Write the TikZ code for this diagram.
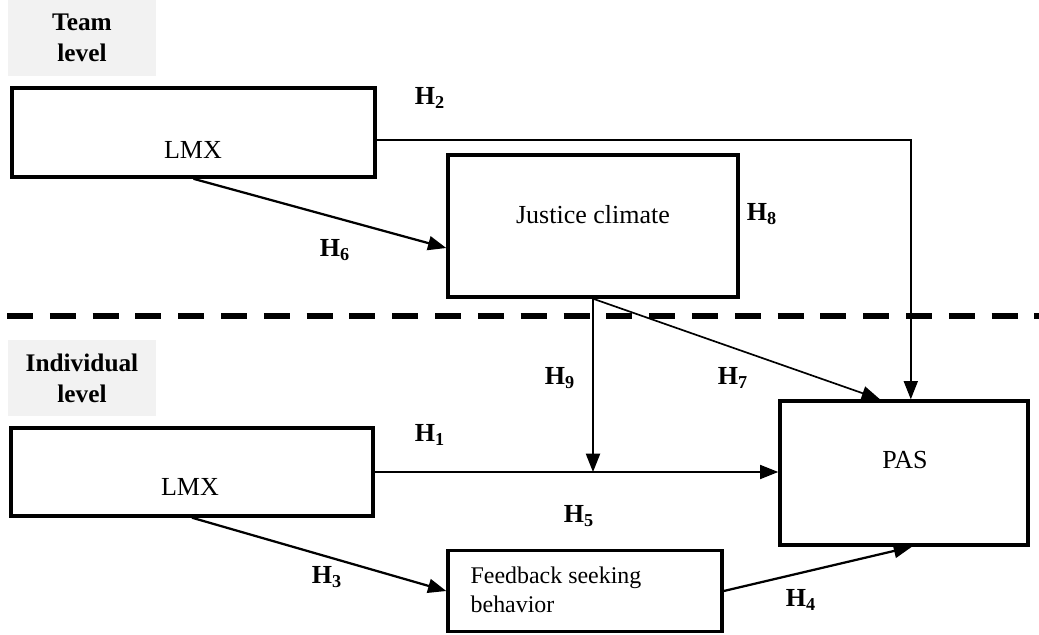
\documentclass[tikz,border=0pt]{standalone}
\usepackage{fontspec}
\setmainfont{Liberation Serif}
\usetikzlibrary{arrows.meta}

\begin{document}
\begin{tikzpicture}[x=0.025cm, y=-0.025cm,
        font=\fontsize{18.5}{22}\selectfont,
        box/.style={draw, line width=2.4pt, inner sep=0pt},
        hyp/.style={font=\fontsize{18.5}{22}\selectfont\bfseries},
        lvl/.style={fill=gray!10, font=\fontsize{18}{22}\selectfont\bfseries, align=center, minimum width=3.7cm, minimum height=1.9cm},
        link/.style={line width=1.6pt, -{Triangle[length=13pt, width=10pt]}}]
        \useasboundingbox (0,0) rectangle (1039,634);

        % levels
        \node[lvl] (team) at (82,38) {Team\\level};
        \node[lvl] (indiv) at (82,378) {Individual\\level};
        \draw[line width=3.6pt, dash pattern=on 0.65cm off 0.42cm] (7,316) -- (1039,316);

        % boxes
        \node[box, minimum width=9.08cm, minimum height=2.23cm] (lmxT) at (193.5,132.5) {};
        \node (lmxTtxt) at (193,150) {LMX};
        \node[box, minimum width=7.25cm, minimum height=3.55cm] (jc) at (593,226) {};
        \node (jctxt) at (593,215) {Justice climate};
        \node[box, minimum width=9.05cm, minimum height=2.2cm] (lmxI) at (192,472) {};
        \node (lmxItxt) at (190,487) {LMX};
        \node[box, minimum width=6.2cm, minimum height=3.6cm] (pas) at (904,473) {};
        \node (pastxt) at (905,460) {PAS};
        \node[box, minimum width=6.85cm, minimum height=2.03cm] (fb) at (585,591) {};
        \node[align=left, font=\fontsize{17}{20.5}\selectfont] (fbtxt) at (556,590) {Feedback seeking\\behavior};

        % paths
        \coordinate (j) at (jc.south |- lmxI.east);
        \draw[link, line width=1.2pt] ([yshift=-0.19cm]lmxT.east) -| ([xshift=0.17cm]pas.north);
        \draw[link] (lmxT.south) -- ([yshift=-0.55cm]jc.west);
        \draw[link, line width=1.2pt] (jc.south) -- (j);
        \draw[link, line width=1.2pt] (jc.south) -- ([xshift=-0.6cm]pas.north);
        \draw[link, line width=1.2pt] (lmxI.east) -- (lmxI.east -| pas.west);
        \draw[link] (lmxI.south) -- (fb.west);
        \draw[link] (fb.east) -- ([xshift=0.2cm]pas.south);

        % hypotheses
        \node[hyp] (h1) at (430,435) {H\textsubscript{1}};
        \node[hyp] (h2) at (430,98) {H\textsubscript{2}};
        \node[hyp] (h3) at (327,577) {H\textsubscript{3}};
        \node[hyp] (h4) at (801,600) {H\textsubscript{4}};
        \node[hyp] (h5) at (579,516) {H\textsubscript{5}};
        \node[hyp] (h6) at (335,250) {H\textsubscript{6}};
        \node[hyp] (h7) at (733,378) {H\textsubscript{7}};
        \node[hyp] (h8) at (762,214) {H\textsubscript{8}};
        \node[hyp] (h9) at (560,378) {H\textsubscript{9}};
    \end{tikzpicture}
\end{document}
